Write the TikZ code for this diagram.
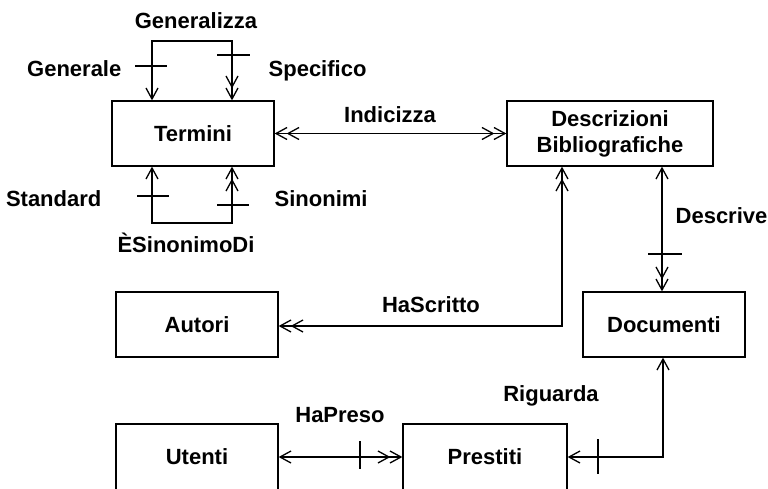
\documentclass[tikz,border=0pt]{standalone}
\usepackage{fontspec}
\setmainfont{Liberation Sans}
\usetikzlibrary{arrows.meta,calc}
\begin{document}
\begin{tikzpicture}[x=1pt,y=-1pt,
  font=\fontsize{22}{26}\selectfont\bfseries,
  line width=1.3pt,
  entity/.style={draw, minimum height=65pt, inner sep=0pt, align=center},
  lbl/.style={inner sep=0pt},
  sgl/.tip={Straight Barb[length=11pt,width=12pt]},
  dbl/.tip={Straight Barb[length=11pt,width=12pt,sep=-1pt] Straight Barb[length=11pt,width=12pt]}]

\useasboundingbox (0,0) rectangle (768,488);
\clip (0,0) rectangle (768,488);

% entities
\node[entity, minimum width=162pt] (termini)   at (193,133.5) {Termini};
\node[entity, minimum width=206pt] (descr)     at (610,133.5) {Descrizioni\\Bibliografiche};
\node[entity, minimum width=162pt] (autori)    at (197,324.5) {Autori};
\node[entity, minimum width=162pt] (documenti) at (664,324.5) {Documenti};
\node[entity, minimum width=162pt, minimum height=66pt] (utenti)   at (197,457) {Utenti};
\node[entity, minimum width=164pt, minimum height=66pt] (prestiti) at (485,457) {Prestiti};

% Generalizza (loop above Termini)
\coordinate (gl) at (152,41);
\coordinate (gr) at (232,41);
\draw[sgl-dbl] (termini.north -| gl) -- (gl) -- (gr) -- (termini.north -| gr);
\draw ($(gl)+(-17,25)$) -- ++(32,0);
\draw ($(gr)+(-15,14)$) -- ++(33,0);

% ÈSinonimoDi (loop below Termini)
\coordinate (sl) at (152,223);
\coordinate (sr) at (232,223);
\draw[sgl-dbl] (termini.south -| sl) -- (sl) -- (sr) -- (termini.south -| sr);
\draw ($(sl)+(-15,-27)$) -- ++(32,0);
\draw ($(sr)+(-15,-18)$) -- ++(32,0);

% Indicizza
\draw[dbl-dbl] (termini) -- (descr);

% HaScritto
\coordinate (hs) at (562,326);
\draw[dbl-dbl] (descr.south -| hs) -- (hs) -- (autori.east |- hs);

% Descrive
\coordinate (dv) at (662,254);
\draw[sgl-dbl] (descr.south -| dv) -- (documenti.north -| dv);
\draw ($(dv)+(-14,0)$) -- ($(dv)+(20,0)$);

% Riguarda
\coordinate (rg) at (663,457);
\coordinate (rt) at (598,457);
\draw[sgl-sgl] (documenti.south -| rg) -- (rg) -- (prestiti.east |- rg);
\draw ($(rt)+(0,-18)$) -- ($(rt)+(0,17)$);

% HaPreso
\coordinate (ht) at (360,457);
\draw[sgl-dbl] (utenti) -- (prestiti);
\draw ($(ht)+(0,-16)$) -- ($(ht)+(0,12)$);

% labels
\node[lbl, anchor=base]      (lgen)  at (196,28)  {Generalizza};
\node[lbl, anchor=base east] (lgnl)  at (122,76)  {Generale};
\node[lbl, anchor=base west] (lspc)  at (268,76)  {Specifico};
\node[lbl, anchor=base east] (lstd)  at (102,206) {Standard};
\node[lbl, anchor=base west] (lsin)  at (274,206) {Sinonimi};
\node[lbl, anchor=base]      (lesd)  at (186,252) {ÈSinonimoDi};
\node[lbl, anchor=base]      (lidx)  at (390,122) {Indicizza};
\node[lbl, anchor=base]      (lhsc)  at (431,312) {HaScritto};
\node[lbl, anchor=base west] (ldsc)  at (675,223) {Descrive};
\node[lbl, anchor=base]      (lrig)  at (551,401) {Riguarda};
\node[lbl, anchor=base]      (lhpr)  at (340,422) {HaPreso};
\end{tikzpicture}
\end{document}
